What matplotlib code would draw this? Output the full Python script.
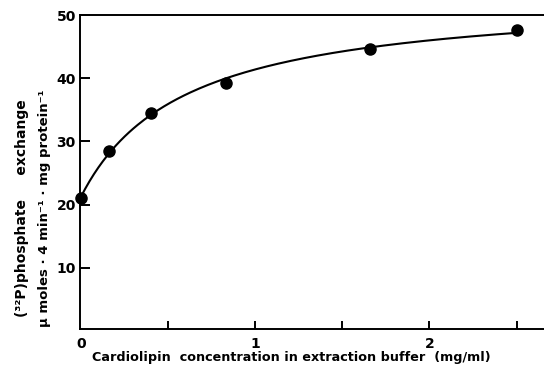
import numpy as np
import matplotlib
matplotlib.use("Agg")
import matplotlib.pyplot as plt

# Values
conc = [0.0, 0.164, 0.40, 0.83, 1.66, 2.50]        # cardiolipin, mg/ml
exchange = [21.0, 28.5, 34.5, 39.3, 44.7, 47.6]    # umol . 4 min-1 . mg protein-1

x_major = [0, 1, 2]
x_ticks = [0.5, 1.0, 1.5, 2.0, 2.5]
y_ticks = [10, 20, 30, 40, 50]


def fit_hyperbola(x, y):
    """Least-squares fit of y = y0 + V*x/(K+x), grid search over K."""
    x = np.asarray(x)
    y = np.asarray(y)
    best = None
    for K in np.linspace(0.05, 3.0, 600):
        A = np.column_stack([np.ones_like(x), x / (K + x)])
        coef, *_ = np.linalg.lstsq(A, y, rcond=None)
        err = np.sum((A @ coef - y) ** 2)
        if best is None or err < best[0]:
            best = (err, K, coef)
    _, K, (y0, V) = best
    return lambda t: y0 + V * t / (K + t)


plt.rcParams["font.family"] = ["DejaVu Sans"]
plt.rcParams["font.weight"] = "bold"

fig = plt.figure(figsize=(5.44, 3.65), dpi=100)
ax = fig.add_axes([0.147, 0.0986, 0.853, 0.860])

curve = fit_hyperbola(conc, exchange)
xs = np.linspace(0, conc[-1], 200)
ax.plot(xs, curve(xs), color="black", lw=1.5, zorder=2)
ax.plot(conc, exchange, "o", color="black", ms=8, zorder=3, clip_on=False)

ax.set_xlim(-0.005, 2.657)
ax.set_ylim(0.3, 50)

for side in ("left", "bottom", "top"):
    ax.spines[side].set_linewidth(1.4)
ax.spines["right"].set_visible(False)

ax.set_yticks(y_ticks)
ax.set_yticklabels([str(v) for v in y_ticks], fontsize=10, fontweight="bold")
ax.tick_params(axis="y", direction="in", length=7, width=1.4, pad=3)

ax.set_xticks(x_ticks)
ax.set_xticklabels([""] * len(x_ticks))
ax.tick_params(axis="x", direction="in", length=6, width=1.4)
for v in x_major:
    ax.text(v, -0.024, str(v), transform=ax.get_xaxis_transform(),
            ha="center", va="top", fontsize=10, fontweight="bold")

fig.text(0.535, 0.004,
         "Cardiolipin  concentration in extraction buffer  (mg/ml)",
         ha="center", va="bottom", fontsize=9.2, fontweight="bold")

fig.text(0.040, 0.43, "(\u00b3\u00b2P)phosphate     exchange",
         rotation=90, ha="center", va="center", fontsize=10, fontweight="bold")
fig.text(0.081, 0.43,
         "\u03bc moles \u00b7 4 min\u207b\u00b9 \u00b7 mg protein\u207b\u00b9",
         rotation=90, ha="center", va="center", fontsize=9.5, fontweight="bold")

fig.savefig("out.png", dpi=100)
